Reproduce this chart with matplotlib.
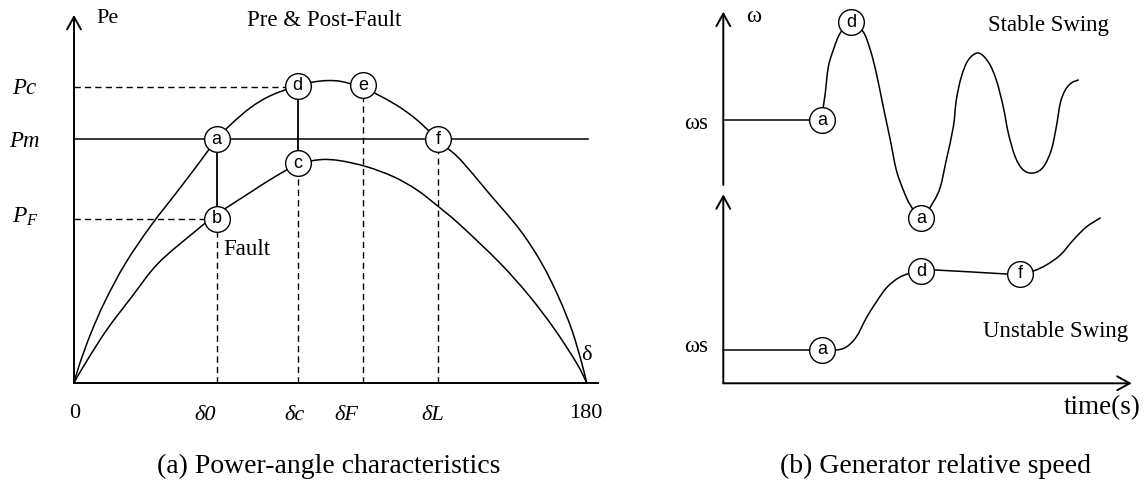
import matplotlib
matplotlib.use("Agg")
import matplotlib.pyplot as plt
from matplotlib.path import Path
from matplotlib.patches import PathPatch

plt.rcParams['font.family'] = ['Liberation Serif', 'DejaVu Serif']
plt.rcParams['mathtext.fontset'] = 'custom'
plt.rcParams['mathtext.rm'] = 'Liberation Serif'
plt.rcParams['mathtext.it'] = 'Liberation Serif:italic'

# (a) power-angle curves, P in units of Pm
delta_pre = [0, 2, 6, 11, 18, 27, 36, 44, 50, 55, 62, 69, 78.5, 84, 89, 94, 101.6,
             106, 113, 119, 123, 127.7, 131, 136, 145.5, 156.6, 164.2, 170.1,
             174.8, 178.3, 180]
p_pre = [0, 0.078, 0.205, 0.337, 0.489, 0.645, 0.781, 0.904, 0.998, 1.060, 1.130,
         1.179, 1.220, 1.235, 1.241, 1.237, 1.212, 1.187, 1.142, 1.093, 1.052,
         1.000, 0.965, 0.912, 0.781, 0.627, 0.491, 0.353, 0.217, 0.080, 0]
delta_fault = [0, 4, 11.5, 20.3, 29.6, 43.1, 49.8, 53.6, 61.8, 70, 78.5, 86.4, 93.4,
               102.8, 112.2, 120.4, 128, 135.6, 149.6, 160.1, 168.9, 176.5, 180]
p_fault = [0, 0.080, 0.217, 0.353, 0.491, 0.627, 0.690, 0.719, 0.781, 0.842, 0.896,
           0.916, 0.912, 0.887, 0.846, 0.792, 0.723, 0.648, 0.491, 0.353, 0.217,
           0.080, 0]

P_M, P_C, P_F = 1.0, 1.214, 0.674
D0, DC, DF, DL = 50.1, 78.5, 101.6, 127.9
pa_nodes = [('a', D0, 1.0), ('b', D0, P_F), ('c', DC, 0.901),
            ('d', DC, 1.22), ('e', DF, 1.222), ('f', DL, 1.0)]

# (b) relative speed, time and speed deviation from ws
stable_t = [0.99, 1.00, 1.02, 1.05, 1.10, 1.17, 1.28, 1.40, 1.47, 1.53, 1.60, 1.67,
            1.73, 1.80, 1.87, 1.98, 2.10, 2.17, 2.23, 2.30, 2.33, 2.38, 2.45, 2.55,
            2.65, 2.73, 2.80, 2.85, 2.92, 3.00, 3.10, 3.20, 3.28, 3.33, 3.37, 3.42,
            3.48, 3.55]
stable_w = [0.00, 0.13, 0.27, 0.53, 0.70, 0.87, 0.98, 0.88, 0.70, 0.47, 0.13, -0.20,
            -0.50, -0.70, -0.85, -0.98, -0.82, -0.67, -0.40, -0.07, 0.20, 0.43, 0.60,
            0.67, 0.58, 0.40, 0.13, -0.13, -0.37, -0.50, -0.53, -0.47, -0.30, -0.07,
            0.17, 0.30, 0.37, 0.40]
stable_nodes = [('a', 0.99, 0.0), ('d', 1.28, 0.98), ('a', 1.98, -0.98)]

unstable_t = [0.99, 1.13, 1.23, 1.33, 1.43, 1.53, 1.63, 1.75, 1.87, 1.98, 2.12, 2.83,
              2.97, 3.10, 3.23, 3.37, 3.50, 3.63, 3.77]
unstable_w = [0.00, 0.00, 0.03, 0.13, 0.32, 0.48, 0.62, 0.72, 0.77, 0.79, 0.80, 0.76,
              0.76, 0.79, 0.85, 0.95, 1.10, 1.23, 1.32]
unstable_nodes = [('a', 0.99, 0.0), ('d', 1.98, 0.79), ('f', 2.97, 0.76)]

fig = plt.figure(figsize=(11.46, 4.83), dpi=100)


def overlay(xlim, ylim):
    ax = fig.add_axes([0, 0, 1, 1])
    ax.set_xlim(*xlim)
    ax.set_ylim(*ylim)
    ax.axis('off')
    ax.patch.set_alpha(0)
    return ax


def arrow(ax, start, end, lw=1.4):
    ax.annotate('', xy=end, xytext=start,
                arrowprops=dict(arrowstyle='->,head_length=0.45,head_width=0.25',
                                lw=lw, color='black', shrinkA=0, shrinkB=0,
                                mutation_scale=20))


def smooth(ax, xs, ys, lw=1.1):
    # smooth line through the read points (Catmull-Rom drawn as cubic Beziers)
    pts = list(zip(xs, ys))
    ext = [pts[0]] + pts + [pts[-1]]
    verts, codes = [pts[0]], [Path.MOVETO]
    for i in range(1, len(ext) - 2):
        p0, p1, p2, p3 = ext[i - 1], ext[i], ext[i + 1], ext[i + 2]
        c1 = (p1[0] + (p2[0] - p0[0]) / 6, p1[1] + (p2[1] - p0[1]) / 6)
        c2 = (p2[0] - (p3[0] - p1[0]) / 6, p2[1] - (p3[1] - p1[1]) / 6)
        verts += [c1, c2, p2]
        codes += [Path.CURVE4] * 3
    ax.add_patch(PathPatch(Path(verts, codes), fill=False, lw=lw, ec='black',
                           joinstyle='round', capstyle='round', zorder=2))


def node(ax, label, x, y):
    ax.plot(x, y, 'o', ms=18.5, mfc='white', mec='black', mew=1.0, zorder=5)
    ax.text(x, y, label, ha='center', va='center', fontsize=13,
            family='Liberation Sans', zorder=6)


dash = (0, (4.5, 3))

# ---- (a) power-angle characteristics
ax = overlay((-25.98, 376.4), (-0.412, 1.572))
arrow(ax, (0, 0), (0, 1.511))
ax.plot([0, 184], [0, 0], color='black', lw=1.4)
ax.plot([0, 180.4], [P_M, P_M], color='black', lw=1.1)
smooth(ax, delta_pre, p_pre)
smooth(ax, delta_fault, p_fault)

ax.plot([0, DC], [P_C, P_C], color='black', lw=1.0, ls=dash)
ax.plot([0, D0], [P_F, P_F], color='black', lw=1.0, ls=dash)
ax.plot([D0, D0], [0, P_F], color='black', lw=1.0, ls=dash)
ax.plot([DC, DC], [0, 0.901], color='black', lw=1.0, ls=dash)
ax.plot([DF, DF], [0, 1.222], color='black', lw=1.0, ls=dash)
ax.plot([DL, DL], [0, 1.0], color='black', lw=1.0, ls=dash)
ax.plot([D0, D0], [P_F, P_M], color='black', lw=1.3)
ax.plot([DC, DC], [0.901, 1.22], color='black', lw=1.3)
for lab, x, y in pa_nodes:
    node(ax, lab, x, y)

ax.text(11.6, 1.497, 'Pe', ha='center', va='center', fontsize=16)
ax.text(87.9, 1.487, 'Pre & Post-Fault', ha='center', va='center', fontsize=16.5)
ax.text(-17.6, 1.21, 'Pc', ha='center', va='center', fontsize=16.5, style='italic')
ax.text(-17.3, 0.99, 'Pm', ha='center', va='center', fontsize=16.5, style='italic')
ax.text(-17.0, 0.682, '$P_F$', ha='center', va='center', fontsize=17)
ax.text(52.3, 0.549, 'Fault', ha='left', va='center', fontsize=16.5)
ax.text(179.8, 0.11, 'δ', ha='center', va='center', fontsize=16)
ax.text(0.2, -0.126, '0', ha='center', va='center', fontsize=16)
ax.text(179.8, -0.126, '180', ha='center', va='center', fontsize=16)
for lab, x in [('δ0', 45.9), ('δc', 77.5), ('δF', 95.6), ('δL', 125.9)]:
    ax.text(x, -0.133, lab, ha='center', va='center', fontsize=16, style='italic')
ax.text(89.5, -0.345, '(a) Power-angle characteristics', ha='center', va='center',
        fontsize=20)

# ---- (b) generator relative speed, stable swing
ax_top = overlay((-7.233, 4.227), (-3.63, 1.2))
arrow(ax_top, (0, -0.65), (0, 1.083))
ax_top.plot([0, 0.99], [0, 0], color='black', lw=1.1)
smooth(ax_top, stable_t, stable_w)
for lab, x, y in stable_nodes:
    node(ax_top, lab, x, y)
ax_top.text(0.30, 1.033, 'ω', ha='center', va='center', fontsize=16.5)
ax_top.text(-0.27, -0.03, 'ωs', ha='center', va='center', fontsize=16.5)
ax_top.text(3.25, 0.95, 'Stable Swing', ha='center', va='center', fontsize=16.5)

# ---- unstable swing
ax_bot = overlay((-7.233, 4.227), (-1.33, 3.5))
arrow(ax_bot, (0, -0.333), (0, 1.557))
arrow(ax_bot, (0, -0.333), (4.084, -0.333))
ax_bot.plot([0, 0.99], [0, 0], color='black', lw=1.1)
smooth(ax_bot, unstable_t, unstable_w)
for lab, x, y in unstable_nodes:
    node(ax_bot, lab, x, y)
ax_bot.text(-0.27, 0.03, 'ωs', ha='center', va='center', fontsize=16.5)
ax_bot.text(3.325, 0.183, 'Unstable Swing', ha='center', va='center', fontsize=16.5)
ax_bot.text(3.784, -0.58, 'time(s)', ha='center', va='center', fontsize=19.5)
ax_bot.text(2.117, -1.16, '(b) Generator relative speed', ha='center', va='center',
            fontsize=20)

fig.savefig('out.png', dpi=100)
